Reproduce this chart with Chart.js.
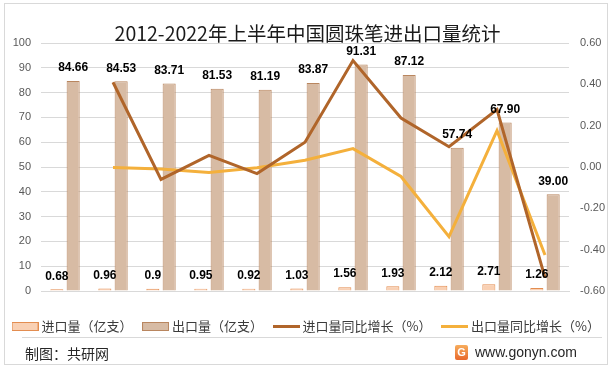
<!DOCTYPE html>
<html>
<head>
<meta charset="utf-8">
<script src="https://cdn.jsdelivr.net/npm/chart.js@4/dist/chart.umd.min.js"></script>
<style>
  html, body { margin: 0; padding: 0; background: #fff; }
  #wrap { position: relative; width: 615px; height: 371px; overflow: hidden; }
  #frame { position: absolute; left: 4px; top: 3px; width: 602px; height: 360px; border: 1px solid #d9d9d9; pointer-events: none; }
  #sep { position: absolute; left: 22px; top: 337px; width: 580px; height: 1px; background: #d9d9d9; }
  #credit { position: absolute; left: 25px; top: 343px; font: 14px "Noto Sans CJK SC", sans-serif; color: #262626; }
  #site { position: absolute; left: 455px; top: 344px; font: 14px "Liberation Sans", sans-serif; color: #262626; display: flex; align-items: center; }
  #logo { width: 13px; height: 15px; margin-right: 7px; border-radius: 2px;
          background: linear-gradient(#f7ad5c, #e8682c); color: #fff; font: bold 11px "Liberation Sans"; text-align: center; line-height: 15px; }
</style>
</head>
<body>
<div id="wrap">
  <canvas id="chart"></canvas>
  <div id="frame"></div>
  <div id="sep"></div>
  <div id="credit">制图：共研网</div>
  <div id="site"><span id="logo">G</span>www.gonyn.com</div>
</div>
<script>
/* ── Data ───────────────────────────────────────────────────── */
const years        = ['2012', '2013', '2014', '2015', '2016', '2017', '2018', '2019', '2020', '2021', '2022H1'];
const importVol    = [0.68, 0.96, 0.9, 0.95, 0.92, 1.03, 1.56, 1.93, 2.12, 2.71, 1.26];
const exportVol    = [84.66, 84.53, 83.71, 81.53, 81.19, 83.87, 91.31, 87.12, 57.74, 67.90, 39.00];
const importGrowth = [null, 0.41, -0.06, 0.056, -0.032, 0.12, 0.515, 0.237, 0.098, 0.278, -0.535];
const exportGrowth = [null, -0.002, -0.01, -0.026, -0.004, 0.033, 0.089, -0.046, -0.337, 0.176, -0.426];
const seriesNames  = ['进口量（亿支）', '出口量（亿支）', '进口量同比增长（%）', '出口量同比增长（%）'];

const C = {
  impFill: '#f9d0b3', impLine: '#e38d50',
  expFill: '#d7bba4', expLine: '#b9865f',
  impGrowth: '#b0652a', expGrowth: '#f4b03c',
  grid: '#d9d9d9', tick: '#595959'
};

/* ── Legend swatches ────────────────────────────────────────── */
function boxSwatch(fill, stroke) {
  const c = document.createElement('canvas');
  c.width = 27; c.height = 9;
  const x = c.getContext('2d');
  x.fillStyle = fill; x.fillRect(0, 0, 27, 9);
  x.strokeStyle = stroke; x.lineWidth = 1; x.strokeRect(0.5, 0.5, 26, 8);
  return c;
}
function lineSwatch(color) {
  const c = document.createElement('canvas');
  c.width = 27; c.height = 9;
  const x = c.getContext('2d');
  x.fillStyle = color; x.fillRect(0, 3, 27, 3);
  return c;
}
const swatches = [
  boxSwatch(C.impFill, C.impLine),
  boxSwatch(C.expFill, C.expLine),
  lineSwatch(C.impGrowth),
  lineSwatch(C.expGrowth)
];

/* ── Value labels above bars ────────────────────────────────── */
const barLabels = [importVol.map(v => String(v)), exportVol.map(v => v.toFixed(2))];
const valueLabels = {
  id: 'valueLabels',
  afterDatasetsDraw(chart) {
    const ctx = chart.ctx;
    ctx.save();
    ctx.font = 'bold 12px "Liberation Sans"';
    ctx.fillStyle = '#000';
    ctx.textAlign = 'center';
    ctx.textBaseline = 'middle';
    [0, 1].forEach(i => {
      chart.getDatasetMeta(i).data.forEach((bar, j) => {
        ctx.fillText(barLabels[i][j], bar.x, bar.y - 13);
      });
    });
    ctx.restore();
  }
};

/* ── Chart ──────────────────────────────────────────────────── */
new Chart(document.getElementById('chart'), {
  data: {
    labels: years,
    datasets: [
      { type: 'bar', label: seriesNames[0], data: importVol, yAxisID: 'y',
        backgroundColor: C.impFill, borderColor: C.impLine, borderWidth: 1, order: 2,
        categoryPercentage: 0.68, barPercentage: 0.8 },
      { type: 'bar', label: seriesNames[1], data: exportVol, yAxisID: 'y',
        backgroundColor: C.expFill, borderColor: C.expLine, borderWidth: 1, order: 2,
        categoryPercentage: 0.68, barPercentage: 0.8 },
      { type: 'line', label: seriesNames[2], data: importGrowth, yAxisID: 'y1',
        borderColor: C.impGrowth, backgroundColor: C.impGrowth, borderWidth: 3,
        pointRadius: 0, tension: 0, order: 1 },
      { type: 'line', label: seriesNames[3], data: exportGrowth, yAxisID: 'y1',
        borderColor: C.expGrowth, backgroundColor: C.expGrowth, borderWidth: 3,
        pointRadius: 0, tension: 0, order: 1 }
    ]
  },
  options: {
    responsive: true,
    maintainAspectRatio: false,
    animation: false,
    layout: { padding: { top: 1, left: 0, right: 0, bottom: 28 } },
    plugins: {
      title: {
        display: true,
        text: '2012-2022年上半年中国圆珠笔进出口量统计',
        color: '#1a1a1a',
        font: { family: '"Noto Sans CJK SC"', size: 19.5, weight: 'normal', lineHeight: 1 },
        padding: { top: 23, bottom: -0.5 }
      },
      legend: {
        position: 'bottom',
        labels: {
          color: '#3b3b3b',
          font: { family: '"Noto Sans CJK SC"', size: 13 },
          usePointStyle: true,
          pointStyleWidth: 20,
          boxHeight: 9,
          padding: 13,
          sort: (a, b) => a.datasetIndex - b.datasetIndex,
          generateLabels(chart) {
            const items = Chart.defaults.plugins.legend.labels.generateLabels(chart);
            items.forEach(it => { it.pointStyle = swatches[it.datasetIndex]; });
            return items;
          }
        }
      },
      tooltip: { enabled: false }
    },
    scales: {
      x: {
        grid: { display: false },
        border: { color: C.grid },
        ticks: { color: '#000', font: { family: '"Liberation Sans"', size: 12, weight: 'bold' }, padding: 11, maxRotation: 0 },
        afterFit(scale) { scale.height = 16; }
      },
      y: {
        position: 'left',
        min: 0, max: 100,
        ticks: { stepSize: 10, color: C.tick, font: { family: '"Liberation Sans"', size: 11 }, padding: 10 },
        grid: { color: C.grid, drawTicks: false },
        border: { display: false },
        afterFit(scale) { scale.width = 41; }
      },
      y1: {
        position: 'right',
        min: -0.6, max: 0.6,
        ticks: { stepSize: 0.2, color: C.tick, font: { family: '"Liberation Sans"', size: 11 }, padding: 11,
                 callback: v => v.toFixed(2) },
        grid: { display: false, drawTicks: false },
        border: { display: false },
        afterFit(scale) { scale.width = 46; }
      }
    }
  },
  plugins: [valueLabels]
});
</script>
</body>
</html>
